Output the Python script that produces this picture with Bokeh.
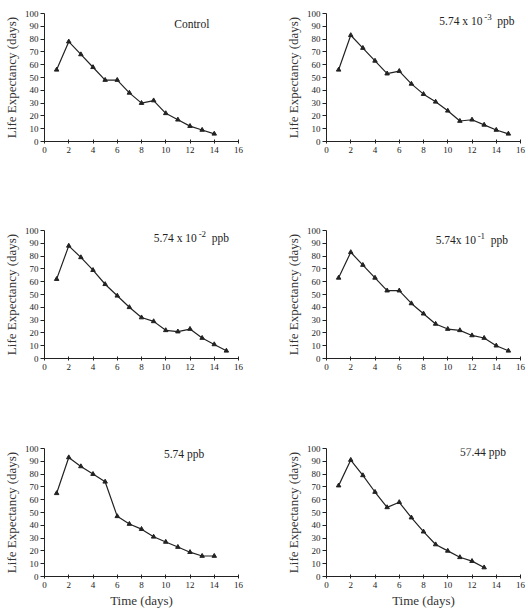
from bokeh.plotting import figure
from bokeh.layouts import column, row
from bokeh.models import Range1d, FixedTicker, Label
from bokeh.embed import file_html
from bokeh.resources import INLINE

FONT = "Liberation Serif"
INK = "#222222"

# Life expectancy (days) against time (days) for each exposure level
days_control = [1, 2, 3, 4, 5, 6, 7, 8, 9, 10, 11, 12, 13, 14]
life_control = [56, 78, 68, 58, 48, 48, 38, 30, 32, 22, 17, 12, 9, 6]

days_e3 = [1, 2, 3, 4, 5, 6, 7, 8, 9, 10, 11, 12, 13, 14, 15]
life_e3 = [56, 83, 73, 63, 53, 55, 45, 37, 31, 24, 16, 17, 13, 9, 6]

days_e2 = [1, 2, 3, 4, 5, 6, 7, 8, 9, 10, 11, 12, 13, 14, 15]
life_e2 = [62, 88, 79, 69, 58, 49, 40, 32, 29, 22, 21, 23, 16, 11, 6]

days_e1 = [1, 2, 3, 4, 5, 6, 7, 8, 9, 10, 11, 12, 13, 14, 15]
life_e1 = [63, 83, 73, 63, 53, 53, 43, 35, 27, 23, 22, 18, 16, 10, 6]

days_574 = [1, 2, 3, 4, 5, 6, 7, 8, 9, 10, 11, 12, 13, 14]
life_574 = [65, 93, 86, 80, 74, 47, 41, 37, 31, 27, 23, 19, 16, 16]

days_5744 = [1, 2, 3, 4, 5, 6, 7, 8, 9, 10, 11, 12, 13]
life_5744 = [71, 91, 79, 66, 54, 58, 46, 35, 25, 20, 15, 12, 7]

x_ticks = [0, 2, 4, 6, 8, 10, 12, 14, 16]
y_ticks = [0, 10, 20, 30, 40, 50, 60, 70, 80, 90, 100]

# (days, values, main label, superscript, unit suffix, label x, label y)
panels = [
    (days_control, life_control, "Control", None, None, 10.7, 92),
    (days_e3, life_e3, "5.74 x 10", "-3", "ppb", 9.3, 94.5),
    (days_e2, life_e2, "5.74 x 10", "-2", "ppb", 9.0, 94.5),
    (days_e1, life_e1, "5.74x 10", "-1", "ppb", 9.0, 92.5),
    (days_574, life_574, "5.74 ppb", None, None, 9.85, 96),
    (days_5744, life_5744, "57.44 ppb", None, None, 11.0, 97),
]


def make_panel(days, values, text, sup, unit, lx, ly, col, bottom_row, bottom_border):
    p = figure(
        output_backend="svg",
        toolbar_location=None,
        frame_width=194,
        frame_height=128,
        x_range=Range1d(0, 16),
        y_range=Range1d(0, 100),
        min_border_left=38 if col == 0 else 56,
        min_border_right=32 if col == 0 else 14,
        min_border_top=13,
        min_border_bottom=bottom_border,
        background_fill_color="white",
        border_fill_color="white",
    )
    p.outline_line_color = None
    p.grid.visible = False

    p.line(days, values, line_color=INK, line_width=1.2)
    p.scatter(days, values, marker="triangle", size=4.5,
              fill_color=INK, line_color=INK)

    for ax in (p.xaxis[0], p.yaxis[0]):
        ax.axis_line_color = INK
        ax.axis_line_width = 1
        ax.major_tick_line_color = INK
        ax.minor_tick_line_color = None
        ax.major_label_text_font = FONT
        ax.major_label_text_font_size = "9px"
        ax.major_label_text_color = INK
        ax.axis_label_text_font = FONT
        ax.axis_label_text_font_style = "normal"
        ax.axis_label_text_font_size = "13px"
        ax.axis_label_text_color = "#333333"

    p.xaxis.ticker = FixedTicker(ticks=x_ticks)
    p.xaxis.major_tick_in = 2
    p.xaxis.major_tick_out = 2
    p.xaxis.major_label_standoff = 3

    p.yaxis.ticker = FixedTicker(ticks=y_ticks)
    p.yaxis.major_tick_in = 0
    p.yaxis.major_tick_out = 4
    p.yaxis.major_label_standoff = 2
    p.yaxis.axis_label = "Life Expectancy (days)"
    p.yaxis.axis_label_standoff = 3

    if bottom_row:
        p.xaxis.axis_label = "Time (days)"
        p.xaxis.axis_label_standoff = 2

    common = dict(text_font=FONT, text_color=INK, text_baseline="middle")
    p.add_layout(Label(x=lx, y=ly, text=text, text_font_size="11.5px", **common))
    if sup:
        # the exponent sits right after the main text; a label without the
        # space before "x" is a few pixels shorter
        shift = 0 if " x " in text else -3
        p.add_layout(Label(x=lx, y=ly, text=sup, x_offset=45 + shift, y_offset=4,
                           text_font_size="9px", **common))
        p.add_layout(Label(x=lx, y=ly, text=unit, x_offset=58 + shift,
                           text_font_size="11.5px", **common))
    return p


figs = []
for i, (d, v, t, s, u, lx, ly) in enumerate(panels):
    r = i // 2
    bottom_row = r == 2
    border = 38 if bottom_row else (76 if r == 0 else 77)
    figs.append(make_panel(d, v, t, s, u, lx, ly, i % 2, bottom_row, border))

layout = column(
    row(figs[0], figs[1], spacing=0),
    row(figs[2], figs[3], spacing=0),
    row(figs[4], figs[5], spacing=0),
    spacing=0,
)

open("out.html", "w").write(file_html(layout, INLINE))
